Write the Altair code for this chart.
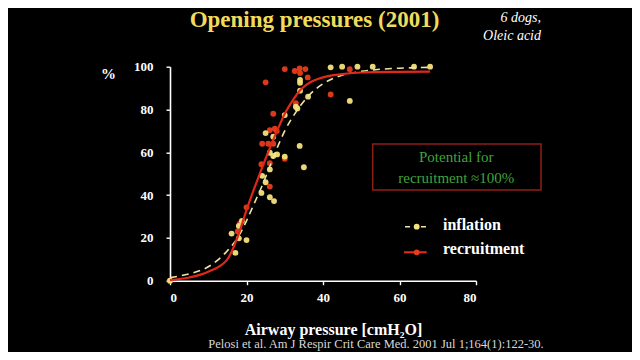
import altair as alt
import pandas as pd

# ---- data ----
infl_x = [0, 16.1, 17.1, 18.0, 18.0, 18.8, 20.0, 23.9, 24.1, 25.0, 26.1, 26.1, 27.2,
          26.1, 27.0, 28.0, 30.0, 25.0, 27.0, 30.0, 32.9, 33.3, 34.0, 34.0, 34.0,
          36.1, 33.9, 35.0, 47.0, 42.0, 45.0, 49.0, 53.0, 63.8, 68.0]
infl_y = [0, 22, 13, 19.8, 25.6, 27.9, 19, 41, 49, 46, 52, 39, 37.2,
          59.8, 58.3, 59, 58, 69, 67.3, 77.4, 81.3, 80.5, 93.8, 92.5, 88.8,
          86, 63, 53, 84, 99.7, 100, 100, 100, 100, 100]

recr_x = [0, 17.7, 18.3, 20.0, 26.1, 23.9, 26.1, 30.0, 24.1, 25.7, 27.0, 26.1, 27.9,
          27.4, 27.0, 32.9, 25.0, 30.0, 32.6, 33.9, 34.0, 35.4, 36.0, 42.0, 47.0]
recr_y = [0, 23, 26.8, 34.3, 44, 54.4, 54.9, 57, 64, 64, 64, 70.4, 70,
          71, 78, 83, 92.7, 98.9, 98, 99.2, 97, 98.9, 95, 87, 98.8]

fit_recr_x = [0, 5, 10, 15, 18, 20, 22, 24, 26, 28, 30, 32, 34, 36, 40, 45, 50, 60, 68]
fit_recr_y = [0.3, 1.5, 4.2, 10, 22, 33, 43, 52.5, 61.5, 70, 78, 84, 89, 92, 95, 96.5, 97.3, 97.6, 97.7]

fit_infl_x = [0, 5, 10, 15, 18, 20, 22, 24, 26, 28, 30, 33, 36, 40, 45, 50, 55, 60, 68]
fit_infl_y = [1.5, 3.2, 6.5, 14, 21, 28, 36, 44, 53, 62, 70, 79, 86, 92, 96, 97.8, 98.8, 99.3, 99.7]

x_ticks = [0, 20, 40, 60, 80]
y_ticks = [0, 20, 40, 60, 80, 100]

title_text = "Opening pressures (2001)"
note_lines = ["6 dogs,", "Oleic acid"]
box_lines = ["Potential for", "recruitment \u2248100%"]
legend_labels = ["inflation", "recruitment"]
citation = "Pelosi et al. Am J Respir Crit Care Med. 2001 Jul 1;164(1):122-30."

# ---- styling ----
YEL = "#f6e27c"
RED = "#e83c1c"
SERIF = "Liberation Serif"
W, H = 306, 214
PAD_L, PAD_T = 162, 58.7
TOTAL_W, TOTAL_H = 624, 344

xs = alt.Scale(domain=[0, 80], nice=False, zero=False)
ys = alt.Scale(domain=[0, 100], nice=False)

X = alt.X("x:Q", scale=xs, axis=alt.Axis(
    values=x_ticks, title="Airway pressure [cmH\u2082O]", grid=False,
    titleX=163, titleY=49, titleAlign="center", titleBaseline="middle",
    titleFontSize=16, titleFontWeight="bold", labelPadding=7))
Y = alt.Y("y:Q", scale=ys, axis=alt.Axis(
    values=y_ticks, title="%", grid=False, titleAngle=0, titleX=-62, titleY=7,
    titleAlign="center", titleBaseline="middle", titleFontSize=15,
    titleFontWeight="bold", labelPadding=13))

df_inf = pd.DataFrame({"x": infl_x, "y": infl_y})
df_rec = pd.DataFrame({"x": recr_x, "y": recr_y})
df_fr = pd.DataFrame({"x": fit_recr_x, "y": fit_recr_y})
df_fi = pd.DataFrame({"x": fit_infl_x, "y": fit_infl_y})

pts_rec = alt.Chart(df_rec).mark_circle(size=34, color=RED, opacity=0.95).encode(x=X, y=Y)
pts_inf = alt.Chart(df_inf).mark_circle(size=34, color=YEL, opacity=0.95).encode(x=X, y=Y)
line_inf = alt.Chart(df_fi).mark_line(color="#efe6a6", strokeWidth=1.6, strokeDash=[7, 5],
                                      interpolate="monotone").encode(x=X, y=Y)
line_rec = alt.Chart(df_fr).mark_line(color="#e0281a", strokeWidth=2.2,
                                      interpolate="monotone").encode(x=X, y=Y)

one = pd.DataFrame({"a": [0]})


def text_layer(txt, x, y, **kw):
    return alt.Chart(pd.DataFrame({"t": [txt]})).mark_text(**kw).encode(
        x=alt.value(x), y=alt.value(y), text="t:N")


title = text_layer(title_text, 144.5, -PAD_T + 1, font=SERIF, fontSize=23, fontWeight="bold",
                   color="#f0dc5c", align="center", baseline="top")
note1 = text_layer(note_lines[0], 371, -49, font=SERIF, fontSize=14, fontStyle="italic",
                   color="white", align="right", baseline="middle")
note2 = text_layer(note_lines[1], 371, -31, font=SERIF, fontSize=14, fontStyle="italic",
                   color="white", align="right", baseline="middle")

box = alt.Chart(one).mark_rect(fill=None, stroke="#8e1e1a", strokeWidth=1.5).encode(
    x=alt.value(202.7), x2=alt.value(371), y=alt.value(77.3), y2=alt.value(123.3))
box1 = text_layer(box_lines[0], 286.3, 90.6, font=SERIF, fontSize=15, color="#3fa43c",
                  align="center", baseline="middle")
box2 = text_layer(box_lines[1], 286.3, 111.6, font=SERIF, fontSize=15, color="#3fa43c",
                  align="center", baseline="middle")

leg_dash = alt.Chart(one).mark_rule(color="#efe6a6", strokeWidth=1.6, strokeDash=[5, 11]).encode(
    x=alt.value(235), x2=alt.value(258), y=alt.value(160))
leg_dot1 = alt.Chart(one).mark_circle(size=34, color=YEL, opacity=1).encode(
    x=alt.value(246.7), y=alt.value(160))
leg_line = alt.Chart(one).mark_rule(color="#e0281a", strokeWidth=2.2).encode(
    x=alt.value(234), x2=alt.value(256.7), y=alt.value(185.6))
leg_dot2 = alt.Chart(one).mark_circle(size=34, color=RED, opacity=1).encode(
    x=alt.value(246.7), y=alt.value(185.6))
leg_t1 = text_layer(legend_labels[0], 273, 158.5, font=SERIF, fontSize=16, fontWeight="bold",
                    color="white", align="left", baseline="middle")
leg_t2 = text_layer(legend_labels[1], 273, 181.8, font=SERIF, fontSize=16, fontWeight="bold",
                    color="white", align="left", baseline="middle")

cite = text_layer(citation, 206, TOTAL_H - PAD_T - 1, font=SERIF, fontSize=12.5, color="#d8d8d8",
                  align="center", baseline="bottom")

chart = alt.layer(
    pts_rec, pts_inf, line_inf, line_rec,
    title, note1, note2, box, box1, box2,
    leg_dash, leg_dot1, leg_line, leg_dot2, leg_t1, leg_t2, cite,
).properties(
    width=W, height=H,
    autosize=alt.AutoSizeParams(type="none"),
    padding={"left": PAD_L, "top": PAD_T, "right": TOTAL_W - PAD_L - W,
             "bottom": TOTAL_H - PAD_T - H},
    background="black",
).configure_view(stroke=None).configure_axis(
    domainColor="white", domainWidth=1.6, tickColor="white", tickWidth=1.4, tickSize=4,
    labelColor="white", labelFont=SERIF, labelFontSize=13, labelFontWeight="bold",
    titleColor="white", titleFont=SERIF,
)

chart.save("out.html", embed_options={"renderer": "svg", "actions": False})
